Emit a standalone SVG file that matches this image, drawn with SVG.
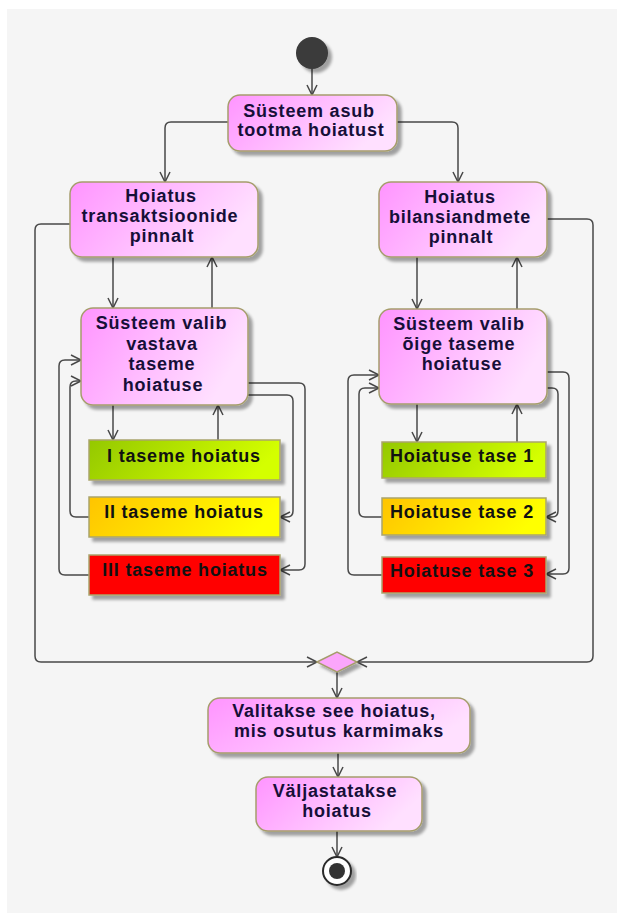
<svg xmlns="http://www.w3.org/2000/svg" width="617" height="915" viewBox="0 0 617 915">
  <defs>
    <linearGradient id="pink" x1="0" y1="0" x2="1" y2="0.35">
      <stop offset="0" stop-color="#ff94ff"/>
      <stop offset="1" stop-color="#ffe0ff"/>
    </linearGradient>
    <linearGradient id="green" x1="0" y1="0" x2="1" y2="0.2">
      <stop offset="0" stop-color="#94c800"/>
      <stop offset="1" stop-color="#d4ff00"/>
    </linearGradient>
    <linearGradient id="yellow" x1="0" y1="0" x2="1" y2="0.2">
      <stop offset="0" stop-color="#ffc400"/>
      <stop offset="1" stop-color="#ffff00"/>
    </linearGradient>
    <filter id="shadow" x="-10%" y="-10%" width="130%" height="140%">
      <feGaussianBlur in="SourceAlpha" stdDeviation="1.5"/>
      <feOffset dx="4" dy="4" result="b"/>
      <feComponentTransfer><feFuncA type="linear" slope="0.35"/></feComponentTransfer>
      <feMerge><feMergeNode/><feMergeNode in="SourceGraphic"/></feMerge>
    </filter>
    <marker id="arrow" markerUnits="userSpaceOnUse" markerWidth="14" markerHeight="14" refX="11" refY="6" orient="auto" overflow="visible">
      <path d="M1,1 L11,6 L1,11" fill="none" stroke="#484848" stroke-width="1.5"/>
    </marker>
    <style>
      .act { fill: url(#pink); stroke: #a59d6c; stroke-width: 1.5; filter: url(#shadow); }
      .lvl { stroke: #aaa46c; stroke-width: 1.5; filter: url(#shadow); }
      .t { font-family: "Liberation Sans", Arial, sans-serif; font-weight: bold; font-size: 18px; letter-spacing: 0.8px; text-anchor: middle; fill: #160f38; }
      .lt { fill: #111; }
      .c { fill: none; stroke: #484848; stroke-width: 1.5; }
      .ca { fill: none; stroke: #484848; stroke-width: 1.5; marker-end: url(#arrow); }
    </style>
  </defs>

  <!-- canvas -->
  <rect x="7" y="9" width="610" height="904" fill="#f5f5f5"/>

  <!-- connectors -->
  <g id="connectors">
    <path class="ca" d="M312,69 V95"/>
    <path class="ca" d="M228,122 H171 Q165,122 165,128 V182"/>
    <path class="ca" d="M397,122 H452 Q458,122 458,128 V182"/>

    <path class="ca" d="M70,224 H41 Q35,224 35,230 V656 Q35,662 41,662 H317"/>
    <path class="ca" d="M547,219 H587 Q593,219 593,225 V656 Q593,662 587,662 H357"/>

    <path class="ca" d="M113,257 V308"/>
    <path class="ca" d="M212,308 V257"/>
    <path class="ca" d="M417,257 V309"/>
    <path class="ca" d="M517,309 V257"/>

    <path class="ca" d="M113,405 V440"/>
    <path class="ca" d="M218,440 V405"/>
    <path class="ca" d="M248,383 H299 Q305,383 305,389 V564 Q305,570 299,570 H280"/>
    <path class="ca" d="M248,395 H287 Q293,395 293,401 V511 Q293,517 287,517 H280"/>
    <path class="ca" d="M89,517 H76 Q70,517 70,511 V387 Q70,381 76,381 H81"/>
    <path class="ca" d="M89,575 H65 Q59,575 59,569 V366 Q59,360 65,360 H81"/>

    <path class="ca" d="M417,404 V442"/>
    <path class="ca" d="M517,442 V404"/>
    <path class="ca" d="M547,372 H563 Q569,372 569,378 V568 Q569,574 563,574 H546"/>
    <path class="ca" d="M547,388 H552 Q558,388 558,394 V511 Q558,517 552,517 H546"/>
    <path class="ca" d="M382,517 H365 Q359,517 359,511 V394 Q359,388 365,388 H379"/>
    <path class="ca" d="M382,575 H354 Q348,575 348,569 V381 Q348,375 354,375 H379"/>

    <path class="ca" d="M337,672 V698"/>
    <path class="ca" d="M338,753 V777"/>
    <path class="ca" d="M337,831 V857"/>
  </g>

  <!-- start -->
  <g id="start">
    <circle cx="312" cy="53" r="16" fill="#3a3a3a" filter="url(#shadow)"/>
  </g>

  <g id="start-warning">
    <rect class="act" x="228" y="95" width="169" height="56" rx="12"/>
    <text class="t" x="309" y="117">Süsteem asub</text>
    <text class="t" x="311" y="136">tootma hoiatust</text>
  </g>

  <g id="transactions">
    <rect class="act" x="70" y="182" width="188" height="75" rx="12"/>
    <text class="t" x="161" y="202">Hoiatus</text>
    <text class="t" x="160" y="222">transaktsioonide</text>
    <text class="t" x="162" y="242">pinnalt</text>
  </g>

  <g id="balance">
    <rect class="act" x="379" y="182" width="168" height="75" rx="12"/>
    <text class="t" x="460" y="203">Hoiatus</text>
    <text class="t" x="460" y="223">bilansiandmete</text>
    <text class="t" x="461" y="243">pinnalt</text>
  </g>

  <g id="select-left">
    <rect class="act" x="81" y="308" width="167" height="97" rx="12"/>
    <text class="t" x="161.5" y="329">Süsteem valib</text>
    <text class="t" x="162" y="349.5">vastava</text>
    <text class="t" x="162" y="370">taseme</text>
    <text class="t" x="163" y="390.5">hoiatuse</text>
  </g>

  <g id="select-right">
    <rect class="act" x="379" y="309" width="168" height="95" rx="12"/>
    <text class="t" x="459" y="330">Süsteem valib</text>
    <text class="t" x="459" y="350">õige taseme</text>
    <text class="t" x="462" y="370">hoiatuse</text>
  </g>

  <g id="level-1">
    <rect class="lvl" x="89" y="440" width="191" height="40" fill="url(#green)"/>
    <text class="t lt" x="184" y="462">I taseme hoiatus</text>
  </g>
  <g id="level-2">
    <rect class="lvl" x="89" y="497" width="191" height="40" fill="url(#yellow)"/>
    <text class="t lt" x="184" y="518">II taseme hoiatus</text>
  </g>
  <g id="level-3">
    <rect class="lvl" x="89" y="555" width="191" height="40" fill="#ff0000"/>
    <text class="t lt" x="185" y="576">III taseme hoiatus</text>
  </g>

  <g id="tase-1">
    <rect class="lvl" x="382" y="442" width="164" height="36" fill="url(#green)"/>
    <text class="t lt" x="462" y="462">Hoiatuse tase 1</text>
  </g>
  <g id="tase-2">
    <rect class="lvl" x="382" y="498" width="164" height="37" fill="url(#yellow)"/>
    <text class="t lt" x="462" y="518">Hoiatuse tase 2</text>
  </g>
  <g id="tase-3">
    <rect class="lvl" x="382" y="557" width="164" height="36" fill="#ff0000"/>
    <text class="t lt" x="462" y="577">Hoiatuse tase 3</text>
  </g>

  <g id="merge">
    <polygon points="317,662 337,652 357,662 337,672" fill="#fba6fb" stroke="#a59d6c" stroke-width="1.5" filter="url(#shadow)"/>
  </g>

  <g id="choose">
    <rect class="act" x="208" y="698" width="262" height="55" rx="12"/>
    <text class="t" x="334" y="717">Valitakse see hoiatus,</text>
    <text class="t" x="339" y="737">mis osutus karmimaks</text>
  </g>

  <g id="issue">
    <rect class="act" x="256" y="777" width="166" height="54" rx="12"/>
    <text class="t" x="335" y="797">Väljastatakse</text>
    <text class="t" x="337" y="817">hoiatus</text>
  </g>

  <g id="end">
    <circle cx="337" cy="871" r="14" fill="#ffffff" stroke="#2a2a2a" stroke-width="2" filter="url(#shadow)"/>
    <circle cx="337" cy="871" r="8" fill="#333333"/>
  </g>
</svg>
